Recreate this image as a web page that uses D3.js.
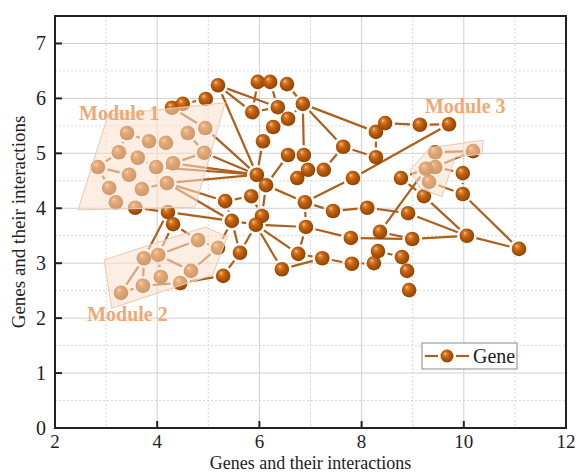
<!DOCTYPE html>
<html><head><meta charset="utf-8">
<script src="https://cdn.jsdelivr.net/npm/d3@7"></script>
<style>body{margin:0;background:#fff}svg{display:block}</style>
</head><body>
<script>
// ---- data ----
const xTicks = [2, 4, 6, 8, 10, 12];
const yTicks = [0, 1, 2, 3, 4, 5, 6, 7];
const xMinor = [3, 5, 7, 9, 11];
const yMinor = [0.5, 1.5, 2.5, 3.5, 4.5, 5.5, 6.5, 7.5];
const nodeX = [4.29,4.50,4.95,5.19,3.41,3.84,4.17,4.60,4.94,3.25,3.62,3.98,4.31,4.92,2.84,3.45,3.06,3.70,4.19,3.19,
  3.57,4.21,4.31,5.33,5.46,5.84,5.97,6.21,6.54,5.86,6.36,6.85,6.56,6.27,6.07,6.56,6.87,5.95,6.13,6.95,
  6.74,7.26,7.64,8.28,8.46,8.28,7.83,6.05,5.93,6.89,7.44,8.11,6.91,9.14,9.71,9.44,10.18,9.44,9.26,9.32,
  8.77,9.98,9.22,9.98,8.91,7.79,8.36,8.99,10.06,11.08,4.80,5.19,5.62,3.74,4.02,4.66,4.07,3.72,4.45,3.29,
  5.29,6.76,7.23,6.44,7.81,8.24,8.32,8.79,8.89,8.93];
const nodeY = [5.83,5.90,5.99,6.24,5.37,5.22,5.19,5.37,5.46,5.02,4.92,4.75,4.82,5.01,4.75,4.61,4.37,4.35,4.46,4.11,
  4.01,3.93,3.71,4.13,3.77,4.22,6.30,6.30,6.26,5.75,5.84,5.90,5.63,5.48,5.22,4.97,4.97,4.61,4.42,4.70,
  4.55,4.70,5.12,5.39,5.55,4.93,4.55,3.86,3.70,4.11,3.95,4.01,3.66,5.52,5.53,5.02,5.04,4.75,4.72,4.48,
  4.55,4.64,4.22,4.26,3.91,3.46,3.57,3.44,3.50,3.26,3.42,3.28,3.19,3.09,3.15,2.86,2.75,2.59,2.64,2.46,
  2.77,3.17,3.09,2.89,2.99,3.00,3.22,3.11,2.86,2.51];
// interactions (1-based node numbers)
const edgeFrom = [1,2,3,1,5,5,10,15,15,11,8,13,16,18,17,20,21,22,12,
  4,4,4,9,14,13,12,19,19,19,22,35,38,
  27,28,27,28,29,30,31,32,33,34,32,32,32,36,40,40,42,43,44,44,45,54,55,47,
  39,39,48,24,24,25,26,50,51,52,65,50,49,53,53,49,49,82,84,83,85,87,88,89,66,67,68,69,64,63,62,58,60,56,58,59,59,61,67,58,59,56,
  22,23,23,71,72,74,74,74,75,75,75,78,78,79,77,72,73,81,49];
const edgeTo = [2,3,4,9,6,10,15,16,17,12,14,14,18,19,20,21,22,23,13,
  38,30,31,38,38,38,38,38,24,25,25,38,39,
  28,29,30,31,32,31,33,33,34,35,37,43,44,39,41,42,43,46,45,46,54,55,47,50,
  50,48,49,26,25,49,48,51,52,65,69,53,53,82,66,84,82,83,83,85,86,88,89,90,68,68,69,70,70,69,64,62,64,57,57,61,67,63,87,59,60,58,
  74,75,71,72,76,75,78,80,77,71,76,80,79,81,79,25,25,73,73];
const modNames = ["Module 1", "Module 2", "Module 3"];
const modLabelX = [2.47, 2.63, 9.24];
const modLabelY = [5.61, 1.95, 5.73];
const mod1X = [3.04, 5.33, 4.74, 2.45], mod1Y = [5.70, 5.92, 4.02, 3.97];
const mod2X = [2.96, 4.94, 5.37, 5.09, 3.11], mod2Y = [3.06, 3.66, 3.48, 2.79, 2.18];
const mod3X = [8.95, 9.34, 10.38, 10.36, 9.83, 9.57, 9.14], mod3Y = [4.70, 5.10, 5.24, 4.99, 4.93, 4.21, 4.37];
const xTitle = "Genes and their interactions", yTitle = "Genes and their interactions";
const legendLabel = "Gene";

// ---- drawing ----
const W = 581, H = 474;
const L = 55, R = 566, T = 16, B = 428;
const x = d3.scaleLinear().domain([2, 12]).range([L, R]);
const y = d3.scaleLinear().domain([0, 7.5]).range([B, T]);
const svg = d3.select("body").append("svg").attr("width", W).attr("height", H);
const serif = "'Liberation Serif','Times New Roman',serif";
const defs = svg.append("defs");
const g = defs.append("radialGradient").attr("id", "ball").attr("cx", "45%").attr("cy", "45%").attr("r", "58%").attr("fx", "35%").attr("fy", "30%");
[[0, "#f6d2ac"], [0.18, "#dc8436"], [0.5, "#bd5c0a"], [0.85, "#9c4a04"], [1, "#7e3a02"]].forEach(s => g.append("stop").attr("offset", s[0]).attr("stop-color", s[1]));

// grid
const grid = svg.append("g");
xMinor.forEach(v => grid.append("line").attr("x1", x(v)).attr("x2", x(v)).attr("y1", T).attr("y2", B).attr("stroke", "#d8d8d8").attr("stroke-width", 1).attr("stroke-dasharray", "2,2"));
yMinor.forEach(v => grid.append("line").attr("y1", y(v)).attr("y2", y(v)).attr("x1", L).attr("x2", R).attr("stroke", "#d8d8d8").attr("stroke-width", 1).attr("stroke-dasharray", "2,2"));
xTicks.slice(1, -1).forEach(v => grid.append("line").attr("x1", x(v)).attr("x2", x(v)).attr("y1", T).attr("y2", B).attr("stroke", "#cfcfcf").attr("stroke-width", 1));
yTicks.slice(1).forEach(v => grid.append("line").attr("y1", y(v)).attr("y2", y(v)).attr("x1", L).attr("x2", R).attr("stroke", "#cfcfcf").attr("stroke-width", 1));

// edges
const rN = 7.3, gap = 2.5;
const eg = svg.append("g");
edgeFrom.forEach((a, i) => {
  const b = edgeTo[i];
  const x1 = x(nodeX[a - 1]), y1 = y(nodeY[a - 1]), x2 = x(nodeX[b - 1]), y2 = y(nodeY[b - 1]);
  const d = Math.hypot(x2 - x1, y2 - y1), s = rN + gap;
  if (d <= 2 * s + 1) return;
  const ux = (x2 - x1) / d, uy = (y2 - y1) / d;
  eg.append("line").attr("x1", x1 + ux * s).attr("y1", y1 + uy * s).attr("x2", x2 - ux * s).attr("y2", y2 - uy * s)
    .attr("stroke", "#ad5f1c").attr("stroke-width", 2.2);
});
// nodes
svg.append("g").selectAll("circle").data(nodeX).join("circle")
  .attr("cx", (d, i) => x(d)).attr("cy", (d, i) => y(nodeY[i])).attr("r", rN)
  .attr("fill", "url(#ball)");

// module overlays
const polys = [[mod1X, mod1Y], [mod2X, mod2Y], [mod3X, mod3Y]];
polys.forEach(p => {
  svg.append("polygon").attr("points", p[0].map((v, i) => x(v) + "," + y(p[1][i])).join(" "))
    .attr("fill", "rgb(250,224,204)").attr("fill-opacity", 0.55).attr("stroke", "rgb(238,200,175)").attr("stroke-width", 1);
});
modNames.forEach((n, i) => svg.append("text").attr("x", x(modLabelX[i])).attr("y", y(modLabelY[i]))
  .attr("font-family", serif).attr("font-weight", "bold").attr("font-size", 20).attr("fill", "#f0a874").text(n));

// frame
svg.append("rect").attr("x", L).attr("y", T).attr("width", R - L).attr("height", B - T).attr("fill", "none").attr("stroke", "#222").attr("stroke-width", 2);
// ticks inward
xTicks.slice(1, -1).forEach(v => svg.append("line").attr("x1", x(v)).attr("x2", x(v)).attr("y1", B).attr("y2", B - 7).attr("stroke", "#222").attr("stroke-width", 2));
yTicks.slice(1).forEach(v => svg.append("line").attr("y1", y(v)).attr("y2", y(v)).attr("x1", L).attr("x2", L + 7).attr("stroke", "#222").attr("stroke-width", 2));
// tick labels
xTicks.forEach(v => svg.append("text").attr("x", x(v)).attr("y", 448).attr("text-anchor", "middle").attr("font-family", serif).attr("font-size", 19).attr("fill", "#222").text(v));
yTicks.forEach(v => svg.append("text").attr("x", 46).attr("y", y(v) + 7).attr("text-anchor", "end").attr("font-family", serif).attr("font-size", 20).attr("fill", "#222").text(v));
// titles
svg.append("text").attr("x", (L + R) / 2).attr("y", 469).attr("text-anchor", "middle").attr("font-family", serif).attr("font-size", 18).attr("fill", "#222").text(xTitle);
svg.append("text").attr("transform", `translate(25,${(T + B) / 2}) rotate(-90)`).attr("text-anchor", "middle").attr("font-family", serif).attr("font-size", 19).attr("fill", "#222").text(yTitle);

// legend
const lg = svg.append("g");
lg.append("rect").attr("x", 422).attr("y", 343).attr("width", 95).attr("height", 26).attr("fill", "#fff").attr("stroke", "#888").attr("stroke-width", 1);
lg.append("line").attr("x1", 425).attr("x2", 438).attr("y1", 356).attr("y2", 356).attr("stroke", "#ad5f1c").attr("stroke-width", 2.2);
lg.append("line").attr("x1", 456).attr("x2", 469).attr("y1", 356).attr("y2", 356).attr("stroke", "#ad5f1c").attr("stroke-width", 2.2);
lg.append("circle").attr("cx", 447).attr("cy", 356).attr("r", 6.5).attr("fill", "url(#ball)");
lg.append("text").attr("x", 473).attr("y", 363).attr("font-family", serif).attr("font-size", 20).attr("fill", "#222").text(legendLabel);
</script>
</body></html>
